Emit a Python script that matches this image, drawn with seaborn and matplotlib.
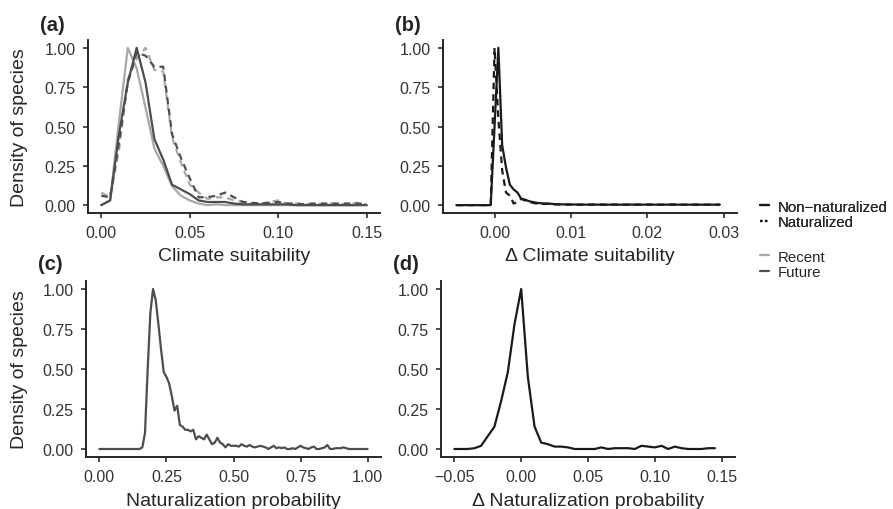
import numpy as np
import pandas as pd
import seaborn as sns
from matplotlib import pyplot as plt
from matplotlib.lines import Line2D

# ---- data (normalised density of species) ----
# (a) climate suitability, bins of 0.005
clim_x = np.round(np.arange(0, 0.1501, 0.005), 3)
recent_non = [0.0, 0.03, 0.53, 1.0, 0.87, 0.62, 0.36, 0.25, 0.12, 0.06, 0.03, 0.01, 0.0, 0.005, 0.0, 0.0,
              0.0, 0.0, 0.0, 0.0, 0.0, 0.0, 0.0, 0.0, 0.0, 0.0, 0.0, 0.0, 0.0, 0.0, 0.0]
future_non = [0.0, 0.03, 0.45, 0.78, 1.0, 0.78, 0.42, 0.29, 0.13, 0.10, 0.07, 0.03, 0.02, 0.02, 0.02, 0.01,
              0.005, 0.005, 0.005, 0.005, 0.005, 0.005, 0.0, 0.0, 0.0, 0.0, 0.0, 0.0, 0.0, 0.0, 0.0]
recent_nat = [0.08, 0.05, 0.35, 0.80, 0.93, 1.0, 0.86, 0.85, 0.43, 0.27, 0.13, 0.08, 0.04, 0.05, 0.05, 0.03,
              0.02, 0.01, 0.01, 0.02, 0.03, 0.01, 0.01, 0.005, 0.01, 0.005, 0.01, 0.005, 0.01, 0.015, 0.005]
future_nat = [0.06, 0.05, 0.40, 0.78, 0.97, 0.95, 0.88, 0.88, 0.45, 0.30, 0.17, 0.05, 0.05, 0.06, 0.08, 0.05,
              0.02, 0.015, 0.01, 0.015, 0.02, 0.01, 0.01, 0.005, 0.01, 0.01, 0.01, 0.01, 0.01, 0.01, 0.005]

# (b) change in climate suitability, bins of 0.0005
dclim_x = np.round(np.arange(-0.005, 0.02951, 0.0005), 4)
dclim_non = [0, 0, 0, 0, 0, 0, 0, 0, 0, 0,
             0.5, 1.0, 0.38, 0.24, 0.13, 0.10, 0.08, 0.04, 0.035, 0.025,
             0.02, 0.015, 0.012, 0.010, 0.010, 0.008, 0.006, 0.005, 0.005, 0.004,
             0.004, 0.004, 0.003, 0.004, 0.003, 0.003, 0.004, 0.003, 0.003, 0.003,
             0.003, 0.004, 0.003, 0.003, 0.003, 0.004, 0.003, 0.003, 0.003, 0.003,
             0.004, 0.003, 0.003, 0.003, 0.003, 0.003, 0.004, 0.003, 0.003, 0.003,
             0.003, 0.003, 0.003, 0.003, 0.003, 0.003, 0.003, 0.003, 0.003, 0.003]
dclim_nat = [0, 0, 0, 0, 0, 0, 0, 0, 0, 0,
             1.0, 0.55, 0.22, 0.08, 0.06, 0.01, 0.02, 0.04, 0.03, 0.02,
             0.015, 0.01, 0.01, 0.008, 0.008, 0.006, 0.005, 0.005, 0.004, 0.004,
             0.003, 0.004, 0.003, 0.003, 0.004, 0.003, 0.003, 0.003, 0.004, 0.003,
             0.003, 0.003, 0.004, 0.003, 0.003, 0.003, 0.003, 0.004, 0.003, 0.003,
             0.003, 0.004, 0.003, 0.003, 0.003, 0.003, 0.003, 0.004, 0.003, 0.003,
             0.003, 0.003, 0.003, 0.003, 0.003, 0.003, 0.003, 0.003, 0.003, 0.003]

# (c) naturalization probability, bins of 0.01
nat_x = np.round(np.arange(0, 1.0001, 0.01), 2)
nat_y = [0.0] * 16 + [
    0.01, 0.10, 0.50, 0.85, 1.0, 0.93, 0.78, 0.62, 0.48, 0.45,
    0.41, 0.33, 0.24, 0.27, 0.15, 0.14, 0.12, 0.12, 0.11, 0.12,
    0.06, 0.08, 0.07, 0.06, 0.09, 0.06, 0.03, 0.04, 0.07, 0.04,
    0.03, 0.01, 0.03, 0.02, 0.02, 0.02, 0.015, 0.03, 0.02, 0.015,
    0.025, 0.015, 0.01, 0.015, 0.02, 0.015, 0.01, 0.0, 0.01, 0.02,
    0.005, 0.01, 0.005, 0.01, 0.0, 0.0, 0.005, 0.0, 0.01, 0.02,
    0.01, 0.005, 0.0, 0.01, 0.015, 0.0, 0.0, 0.005, 0.01, 0.025,
    0.0, 0.0, 0.005, 0.005, 0.005, 0.01, 0.005, 0.0, 0.0, 0.0,
    0.0, 0.0, 0.0, 0.0, 0.0]

# (d) change in naturalization probability, bins of 0.005
dnat_x = np.round(np.arange(-0.05, 0.1451, 0.005), 3)
dnat_y = [0.0, 0.0, 0.0, 0.005, 0.02, 0.08, 0.14, 0.30, 0.48, 0.78,
          1.0, 0.45, 0.14, 0.04, 0.03, 0.015, 0.015, 0.01, 0.0, 0.0,
          0.0, 0.0, 0.01, 0.0, 0.005, 0.005, 0.005, 0.0, 0.02, 0.015,
          0.01, 0.02, 0.0, 0.015, 0.005, 0.0, 0.0, 0.0, 0.005, 0.005]

colors = {"Recent": "#a8a8a8", "Future": "#4d4d4d"}
dash = (3.0, 2.2)

df_a = pd.concat([
    pd.DataFrame({"x": clim_x, "y": recent_non, "period": "Recent", "status": "Non-naturalized"}),
    pd.DataFrame({"x": clim_x, "y": future_non, "period": "Future", "status": "Non-naturalized"}),
    pd.DataFrame({"x": clim_x, "y": recent_nat, "period": "Recent", "status": "Naturalized"}),
    pd.DataFrame({"x": clim_x, "y": future_nat, "period": "Future", "status": "Naturalized"}),
])
df_b = pd.concat([
    pd.DataFrame({"x": dclim_x, "y": dclim_non, "status": "Non-naturalized"}),
    pd.DataFrame({"x": dclim_x, "y": dclim_nat, "status": "Naturalized"}),
])
df_c = pd.DataFrame({"x": nat_x, "y": nat_y})
df_d = pd.DataFrame({"x": dnat_x, "y": dnat_y})

sns.set_style("ticks")
plt.rcParams["font.family"] = ["Liberation Sans", "DejaVu Sans"]
plt.rcParams["axes.linewidth"] = 1.4
plt.rcParams["xtick.major.width"] = 1.1
plt.rcParams["ytick.major.width"] = 1.1
plt.rcParams["xtick.major.size"] = 3.8
plt.rcParams["ytick.major.size"] = 3.8

W, H = 893, 510
fig = plt.figure(figsize=(W / 100, H / 100), dpi=100)


def px_axes(left, top, right, bottom):
    return fig.add_axes([left / W, 1 - bottom / H, (right - left) / W, (bottom - top) / H])


ax_a = px_axes(88, 41, 380, 214)
ax_b = px_axes(443, 41, 737, 214)
ax_c = px_axes(86, 282, 381, 458)
ax_d = px_axes(441, 282, 735, 458)

sns.lineplot(data=df_a, x="x", y="y", hue="period", style="status", palette=colors,
             dashes={"Non-naturalized": "", "Naturalized": dash},
             hue_order=["Recent", "Future"], style_order=["Non-naturalized", "Naturalized"],
             lw=1.6, legend=False, ax=ax_a)
sns.lineplot(data=df_b, x="x", y="y", style="status", color="#1a1a1a",
             dashes={"Non-naturalized": "", "Naturalized": dash},
             style_order=["Non-naturalized", "Naturalized"], lw=1.6, legend=False, ax=ax_b)
sns.lineplot(data=df_c, x="x", y="y", color=colors["Future"], lw=1.6, ax=ax_c)
sns.lineplot(data=df_d, x="x", y="y", color="#1a1a1a", lw=1.6, ax=ax_d)

setup = [
    (ax_a, "(a)", "Climate suitability", (-0.0075, 0.1575), [0, 0.05, 0.10, 0.15]),
    (ax_b, "(b)", "\u0394 Climate suitability", (-0.00675, 0.03175), [0, 0.01, 0.02, 0.03]),
    (ax_c, "(c)", "Naturalization probability", (-0.05, 1.05), [0, 0.25, 0.5, 0.75, 1.0]),
    (ax_d, "(d)", "\u0394 Naturalization probability", (-0.06, 0.16), [-0.05, 0, 0.05, 0.10, 0.15]),
]
for ax, tag, xlabel, xlim, xticks in setup:
    sns.despine(ax=ax)
    ax.set_xlim(*xlim)
    ax.set_ylim(-0.05, 1.05)
    ax.set_xticks(xticks)
    ax.set_yticks([0, 0.25, 0.5, 0.75, 1.0])
    ax.set_xticklabels([f"{t:.2f}".replace("-", "\u2212") for t in xticks])
    ax.set_yticklabels([f"{t:.2f}" for t in [0, 0.25, 0.5, 0.75, 1.0]])
    ax.tick_params(labelsize=11.5, labelcolor="#333333", color="#1a1a1a", pad=5)
    ax.set_xlabel(xlabel, fontsize=14)
    top_row = ax in (ax_a, ax_b)
    ax.xaxis.set_label_coords(0.5, -0.197 if top_row else -0.2)
    if ax in (ax_a, ax_c):
        ax.set_ylabel("Density of species", fontsize=14)
        ax.yaxis.set_label_coords(-0.205 if top_row else -0.197, 0.5)
    else:
        ax.set_ylabel("")
    ax.text(-0.163, 1.09 if top_row else 1.097, tag, transform=ax.transAxes,
            fontsize=14.5, fontweight="bold", ha="left", va="center")

# legends: line type (status) then colour (period)
lt_handles = [Line2D([], [], color="#1a1a1a", lw=1.6),
              Line2D([], [], color="#1a1a1a", lw=1.6, ls=(0, (1.1, 1.1)))]
leg1 = fig.legend(lt_handles, ["Non\u2212naturalized", "Naturalized"], frameon=False,
                  loc="center left", bbox_to_anchor=(752 / W, 1 - 215.5 / H), fontsize=10.8,
                  handlelength=0.65, handletextpad=0.55, labelspacing=0.12, borderpad=0)
col_handles = [Line2D([], [], color=colors["Recent"], lw=1.6),
               Line2D([], [], color=colors["Future"], lw=1.6)]
fig.legend(col_handles, ["Recent", "Future"], frameon=False,
           loc="center left", bbox_to_anchor=(752 / W, 1 - 265.5 / H), fontsize=10.8,
           handlelength=0.65, handletextpad=0.55, labelspacing=0.12, borderpad=0)
fig.add_artist(leg1)

fig.savefig("out.png", dpi=100)
